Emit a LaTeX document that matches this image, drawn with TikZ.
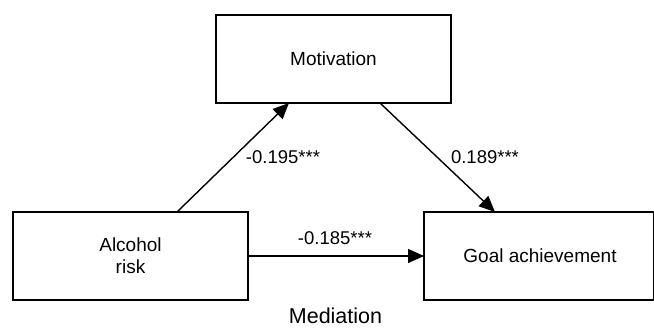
\documentclass[tikz,border=0pt]{standalone}
\usepackage{fontspec}
\setmainfont{Liberation Sans}
\usetikzlibrary{arrows.meta}
\begin{document}
\begin{tikzpicture}[x=1pt,y=-1pt,
  box/.style={draw, line width=1.4pt, inner sep=0pt},
  lbl/.style={font=\fontsize{18.5}{20}\selectfont, inner sep=0pt},
  conn/.style={line width=1.4pt, -{Triangle[length=16pt,width=14pt]}}]
\useasboundingbox (0,0) rectangle (654,328);
\node[box, minimum width=235pt, minimum height=88pt] (mot) at (333.5,59) {};
\node[box, minimum width=235pt, minimum height=88pt] (alc) at (130.5,256) {};
\node[box, minimum width=230pt, minimum height=88pt] (goal) at (539,256) {};
\node[lbl, font=\fontsize{19}{20}\selectfont] (tmot) at (333.5,59) {Motivation};
\node[lbl, font=\fontsize{19}{22}\selectfont, align=center] (talc) at (130.5,256) {Alcohol\\risk};
\node[lbl, font=\fontsize{19}{20}\selectfont] (tgoal) at (540,256) {Goal achievement};
\node[lbl, font=\fontsize{21.5}{24}\selectfont, anchor=base] (med) at (335.5,323.5) {Mediation};
\coordinate (a1s) at (177,212);
\coordinate (a1e) at (289,103);
\coordinate (a2s) at (380,103);
\coordinate (a2e) at (495,212);
\coordinate (a3s) at (248,256);
\coordinate (a3e) at (424,256);
\draw[conn] (a1s) -- (a1e);
\draw[conn] (a2s) -- (a2e);
\draw[conn] (a3s) -- (a3e);
\node[lbl] (l1) at (283,157) {-0.195***};
\node[lbl] (l2) at (485,157) {0.189***};
\node[lbl] (l3) at (335,238) {-0.185***};
\end{tikzpicture}
\end{document}
